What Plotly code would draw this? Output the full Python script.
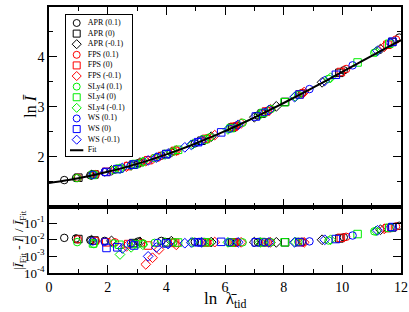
import plotly.graph_objects as go

# ---------------- data ----------------
FIT_X = [0.0, 0.5, 1.0, 1.5, 2.0, 2.5, 3.0, 3.5, 4.0, 4.5, 5.0, 5.5, 6.0,
         6.5, 7.0, 7.5, 8.0, 8.5, 9.0, 9.5, 10.0, 10.5, 11.0, 11.5, 12.0]
FIT_Y = [1.470, 1.515, 1.567, 1.627, 1.695, 1.770, 1.854, 1.945, 2.044, 2.151,
         2.264, 2.385, 2.511, 2.644, 2.783, 2.927, 3.075, 3.227, 3.383, 3.540,
         3.700, 3.860, 4.021, 4.180, 4.337]

APR_p1_x = [0.52, 0.92, 1.41, 1.90, 3.04, 3.83, 4.97, 6.40, 7.12, 8.62, 10.05, 11.94]
APR_p1_y = [1.530, 1.571, 1.626, 1.690, 1.869, 2.019, 2.265, 2.624, 2.825, 3.272, 3.730, 4.387]
APR_p1_r = [0.0130, 0.0120, 0.0095, 0.0085, 0.0078, 0.0085, 0.0075, 0.0072, 0.0072, 0.0075, 0.0140, 0.069]

APR_0_x = [1.00, 1.55, 2.87, 4.00, 5.20, 6.25, 7.25, 8.05, 9.90, 11.70]
APR_0_y = [1.578, 1.643, 1.838, 2.051, 2.319, 2.585, 2.862, 3.097, 3.680, 4.298]
APR_0_r = [0.011, 0.009, 0.0063, 0.007, 0.0072, 0.007, 0.0072, 0.007, 0.012, 0.055]

APR_m1_x = [1.45, 2.13, 3.10, 4.17, 5.53, 7.00, 7.75, 9.31, 11.30]
APR_m1_y = [1.631, 1.724, 1.880, 2.088, 2.400, 2.790, 3.008, 3.490, 4.156]
APR_m1_r = [0.0095, 0.0085, 0.0075, 0.0082, 0.0072, 0.0072, 0.007, 0.010, 0.040]

FPS_p1_x = [0.98, 1.60, 2.25, 3.15, 4.25, 5.40, 6.35, 7.46, 8.65, 10.13, 11.83]
FPS_p1_y = [1.576, 1.650, 1.740, 1.888, 2.105, 2.368, 2.611, 2.922, 3.281, 3.757, 4.347]
FPS_p1_r = [0.0105, 0.0085, 0.007, 0.0065, 0.0072, 0.007, 0.0068, 0.007, 0.007, 0.015, 0.063]

FPS_0_x = [1.95, 2.70, 3.38, 4.30, 5.35, 6.30, 7.40, 8.55, 9.95, 11.54]
FPS_0_y = [1.695, 1.810, 1.928, 2.115, 2.356, 2.598, 2.905, 3.250, 3.697, 4.243]
FPS_0_r = [0.007, 0.0055, 0.0045, 0.0065, 0.0068, 0.007, 0.007, 0.0072, 0.013, 0.050]

FPS_m1_x = [2.64, 3.30, 3.53, 3.75, 4.34, 5.65, 6.55, 7.55, 8.70, 11.43]
FPS_m1_y = [1.798, 1.909, 1.952, 1.998, 2.122, 2.430, 2.665, 2.949, 3.296, 4.203]
FPS_m1_r = [0.004, 0.00033, 0.00083, 0.0026, 0.0049, 0.0072, 0.007, 0.007, 0.007, 0.045]

SLY_p1_x = [0.96, 1.53, 2.20, 3.21, 3.60, 4.23, 5.48, 6.60, 7.57, 8.50, 9.53, 11.09]
SLY_p1_y = [1.570, 1.637, 1.731, 1.898, 1.972, 2.100, 2.387, 2.679, 2.955, 3.235, 3.559, 4.082]
SLY_p1_r = [0.0072, 0.0055, 0.006, 0.006, 0.0065, 0.007, 0.007, 0.007, 0.007, 0.0075, 0.009, 0.032]

SLY_0_x = [1.50, 2.40, 2.95, 4.40, 5.30, 6.20, 7.30, 8.03, 10.52, 11.60]
SLY_0_y = [1.633, 1.760, 1.852, 2.137, 2.344, 2.571, 2.876, 3.091, 3.888, 4.263]
SLY_0_r = [0.006, 0.005, 0.0055, 0.0068, 0.007, 0.0068, 0.007, 0.007, 0.022, 0.052]

SLY_m1_x = [2.42, 2.80, 3.20, 3.95, 4.90, 6.10, 7.20, 8.40, 9.60, 11.15]
SLY_m1_y = [1.759, 1.824, 1.895, 2.041, 2.248, 2.545, 2.848, 3.204, 3.582, 4.103]
SLY_m1_r = [0.0013, 0.0035, 0.005, 0.0068, 0.007, 0.007, 0.007, 0.0072, 0.010, 0.034]

WS_p1_x = [1.49, 1.90, 2.79, 3.70, 5.10, 6.15, 7.35, 8.88, 10.35, 11.65]
WS_p1_y = [1.634, 1.689, 1.825, 1.992, 2.295, 2.558, 2.891, 3.354, 3.830, 4.282]
WS_p1_r = [0.008, 0.0075, 0.006, 0.0065, 0.007, 0.007, 0.007, 0.008, 0.018, 0.055]

WS_0_x = [1.96, 2.33, 2.90, 4.00, 5.08, 5.87, 7.05, 8.54, 9.78, 11.71]
WS_0_y = [1.693, 1.749, 1.842, 2.050, 2.290, 2.486, 2.804, 3.246, 3.641, 4.304]
WS_0_r = [0.0032, 0.0035, 0.0045, 0.006, 0.007, 0.0075, 0.007, 0.0072, 0.011, 0.058]

WS_m1_x = [2.50, 3.38, 3.66, 4.06, 4.63, 4.85, 5.20, 6.45, 7.50, 8.37, 9.40, 11.20]
WS_m1_y = [1.773, 1.924, 1.980, 2.063, 2.186, 2.237, 2.319, 2.638, 2.934, 3.194, 3.519, 4.122]
WS_m1_r = [0.003, 0.001, 0.0034, 0.0055, 0.0062, 0.0068, 0.007, 0.007, 0.007, 0.007, 0.010, 0.037]

SERIES_NAMES = ["APR (0.1)", "APR (0)", "APR (-0.1)",
                "FPS (0.1)", "FPS (0)", "FPS (-0.1)",
                "SLy4 (0.1)", "SLy4 (0)", "SLy4 (-0.1)",
                "WS (0.1)", "WS (0)", "WS (-0.1)"]
SERIES = [(APR_p1_x, APR_p1_y, APR_p1_r), (APR_0_x, APR_0_y, APR_0_r), (APR_m1_x, APR_m1_y, APR_m1_r),
          (FPS_p1_x, FPS_p1_y, FPS_p1_r), (FPS_0_x, FPS_0_y, FPS_0_r), (FPS_m1_x, FPS_m1_y, FPS_m1_r),
          (SLY_p1_x, SLY_p1_y, SLY_p1_r), (SLY_0_x, SLY_0_y, SLY_0_r), (SLY_m1_x, SLY_m1_y, SLY_m1_r),
          (WS_p1_x, WS_p1_y, WS_p1_r), (WS_0_x, WS_0_y, WS_0_r), (WS_m1_x, WS_m1_y, WS_m1_r)]

X_TICKS = [0, 2, 4, 6, 8, 10, 12]
Y_TICKS = [2, 3, 4, 5]
R_TICKS = [1e-4, 1e-3, 1e-2, 1e-1]
R_TICKTEXT = ["10<sup>-4</sup>", "10<sup>-3</sup>", "10<sup>-2</sup>", "10<sup>-1</sup>"]

# ---------------- style ----------------
COLORS = ["#000000"] * 3 + ["#ff0000"] * 3 + ["#00ee00"] * 3 + ["#0000ff"] * 3
SYMBOLS = ["circle-open", "square-open", "diamond-open"] * 4
FONT = "Liberation Serif"

fig = go.Figure()

for (xs, ys, rs), name, col, sym in zip(SERIES, SERIES_NAMES, COLORS, SYMBOLS):
    mk = dict(symbol=sym, color=col, size=7.5, line=dict(width=1, color=col))
    fig.add_trace(go.Scatter(x=xs, y=ys, mode="markers", marker=mk, name=name,
                             showlegend=False, xaxis="x", yaxis="y"))
    fig.add_trace(go.Scatter(x=xs, y=rs, mode="markers", marker=mk, name=name,
                             showlegend=False, xaxis="x2", yaxis="y2"))

fig.add_trace(go.Scatter(x=FIT_X, y=FIT_Y, mode="lines", line=dict(color="black", width=2),
                         line_shape="spline", name="Fit", showlegend=False, xaxis="x", yaxis="y"))

# ----- hand-made legend in an inset axis (entries indexed 0..12) -----
LEG_IDX = list(range(len(SERIES_NAMES)))
fig.add_trace(go.Scatter(x=[11] * len(LEG_IDX), y=LEG_IDX, mode="markers",
                         marker=dict(symbol=SYMBOLS, color=COLORS, size=7,
                                     line=dict(width=1, color=COLORS)),
                         showlegend=False, hoverinfo="skip", xaxis="x3", yaxis="y3"))
fig.add_trace(go.Scatter(x=[4.3, 17.6], y=[12, 12], mode="lines",
                         line=dict(color="black", width=2),
                         showlegend=False, hoverinfo="skip", xaxis="x3", yaxis="y3"))
fig.add_trace(go.Scatter(x=[22] * 13, y=LEG_IDX + [12], mode="text",
                         text=SERIES_NAMES + ["Fit"], textposition="middle right",
                         textfont=dict(family=FONT, size=8, color="black"),
                         showlegend=False, hoverinfo="skip", xaxis="x3", yaxis="y3"))

axis_common = dict(showline=True, linecolor="black", linewidth=1.5, mirror="ticks",
                   ticks="inside", ticklen=8, tickwidth=1.2, tickcolor="black",
                   showgrid=False, zeroline=False, automargin=False,
                   tickfont=dict(family=FONT, size=14, color="black"))

fig.update_layout(
    width=409, height=312,
    margin=dict(l=49, r=8, t=7, b=39),
    plot_bgcolor="white", paper_bgcolor="white",
    font=dict(family=FONT, color="black"),
    xaxis=dict(axis_common, domain=[0, 1], anchor="y", range=[0, 12],
               tickmode="array", tickvals=X_TICKS, showticklabels=False,
               minor=dict(ticks="inside", ticklen=4, tickmode="linear", tick0=0, dtick=1,
                          tickcolor="black", showgrid=False)),
    yaxis=dict(axis_common, domain=[0.25, 1], anchor="x", range=[1, 5],
               tickmode="array", tickvals=Y_TICKS,
               minor=dict(ticks="inside", ticklen=4, tickmode="linear", tick0=0, dtick=0.5,
                          tickcolor="black", showgrid=False)),
    xaxis2=dict(axis_common, domain=[0, 1], anchor="y2", range=[0, 12],
                tickmode="array", tickvals=X_TICKS,
                minor=dict(ticks="inside", ticklen=4, tickmode="linear", tick0=0, dtick=1,
                           tickcolor="black", showgrid=False)),
    yaxis2=dict(axis_common, domain=[0, 0.25], anchor="x2", type="log", range=[-4, 0],
                tickmode="array", tickvals=R_TICKS, ticktext=R_TICKTEXT,
                tickfont=dict(family=FONT, size=13, color="black")),
    xaxis3=dict(domain=[0.0474, 0.235], anchor="y3", range=[0, 66],
                showline=True, mirror=True, linecolor="black", linewidth=1,
                showticklabels=False, ticks="", showgrid=False, zeroline=False, fixedrange=True),
    yaxis3=dict(domain=[0.441, 0.970], anchor="x3", range=[12.51, -0.755],
                showline=True, mirror=True, linecolor="black", linewidth=1,
                showticklabels=False, ticks="", showgrid=False, zeroline=False, fixedrange=True),
    annotations=[
        dict(text="ln <i>Ī</i>", xref="paper", yref="paper", x=-0.051, y=0.625,
             xanchor="center", yanchor="middle", textangle=-90, showarrow=False,
             font=dict(family=FONT, size=16, color="black")),
        dict(text="|<i>Ī</i><sub>Fit</sub> - <i>Ī</i>| / <i>Ī</i><sub>Fit</sub>",
             xref="paper", yref="paper", x=-0.085, y=0.124,
             xanchor="center", yanchor="middle", textangle=-90, showarrow=False,
             font=dict(family=FONT, size=13, color="black")),
        dict(text="ln  λ\u0304<sub>tid</sub>", xref="paper", yref="paper", x=0.5, y=-0.103,
             xanchor="center", yanchor="middle", showarrow=False,
             font=dict(family=FONT, size=17, color="black")),
    ],
)

fig.write_html("out.html", config={"displayModeBar": False},
               post_script="document.body.style.margin='0';document.body.style.overflow='hidden';")
